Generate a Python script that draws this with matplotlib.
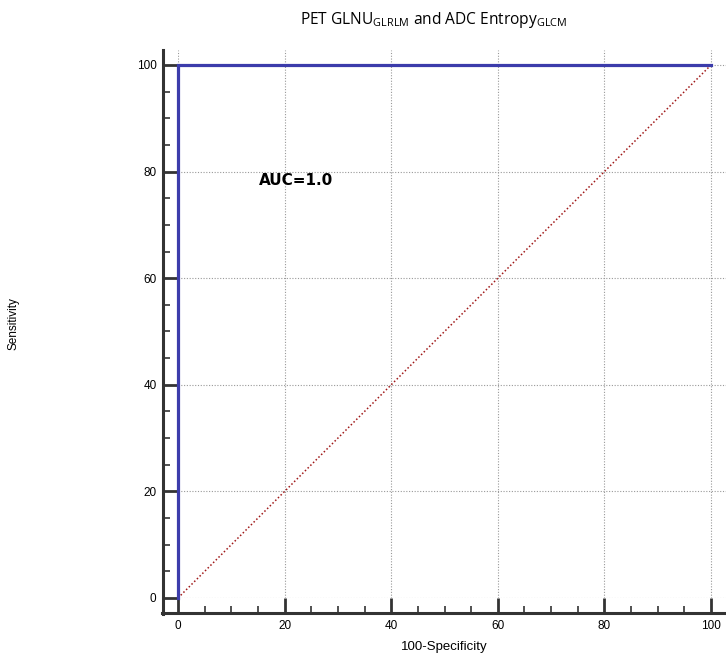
import matplotlib
matplotlib.use('Agg')
import matplotlib.pyplot as plt
from matplotlib.ticker import MultipleLocator

plt.rcParams['font.family'] = 'Liberation Sans'
plt.rcParams['mathtext.fontset'] = 'custom'
plt.rcParams['mathtext.rm'] = 'Open Sans'

# ROC curve (100-specificity, sensitivity)
roc_x = [0, 0, 100]
roc_y = [0, 100, 100]
ref_x = [0, 100]
ref_y = [0, 100]
auc_text = 'AUC=1.0'

fig = plt.figure(figsize=(7.26, 6.63), dpi=100)
ax = fig.add_axes([178/726, 1-598/663, 1-178/726, 548/663])

ax.plot(roc_x, roc_y, color='#3c3cab', lw=2.3, solid_joinstyle='miter', zorder=3, clip_on=False)
ax.plot(ref_x, ref_y, color='#a01818', lw=1.1, ls=(0, (1, 1.5)), zorder=2)

ax.set_xlim(0, 102.8)
ax.set_ylim(0, 102.8)
ax.xaxis.set_major_locator(MultipleLocator(20))
ax.yaxis.set_major_locator(MultipleLocator(20))
ax.xaxis.set_minor_locator(MultipleLocator(5))
ax.yaxis.set_minor_locator(MultipleLocator(5))
ax.grid(which='major', color='#999999', ls=(0, (1, 1.5)), lw=0.8)

for s in ['top', 'right']:
    ax.spines[s].set_visible(False)
for s in ['left', 'bottom']:
    ax.spines[s].set_position(('outward', 10.5))
    ax.spines[s].set_linewidth(2.2)
    ax.spines[s].set_color('#333333')
    ax.spines[s].set_bounds(-2.95, 102.8)
ax.tick_params(which='major', direction='in', length=10.5, width=2, color='#333333',
               labelsize=8.5, pad=5)
ax.tick_params(which='minor', direction='in', length=5, width=1.2, color='#333333')

ax.text(15.2, 78.4, auc_text, fontsize=11, fontweight='bold', va='center', ha='left',
        family='DejaVu Sans')

ax.set_xlabel('100-Specificity', fontsize=9.5)
ax.xaxis.set_label_coords((444-178)/548, -0.078)
ax.set_ylabel('Sensitivity', fontsize=8.5)
ax.yaxis.set_label_coords(-(178-20)/548, 0.5)

fig.text(434/726, 1-20/663, r'PET GLNU$_{\mathrm{GLRLM}}$ and ADC Entropy$_{\mathrm{GLCM}}$',
         ha='center', va='center', fontsize=11.2, family='Open Sans')

fig.savefig('out.png', dpi=100)
